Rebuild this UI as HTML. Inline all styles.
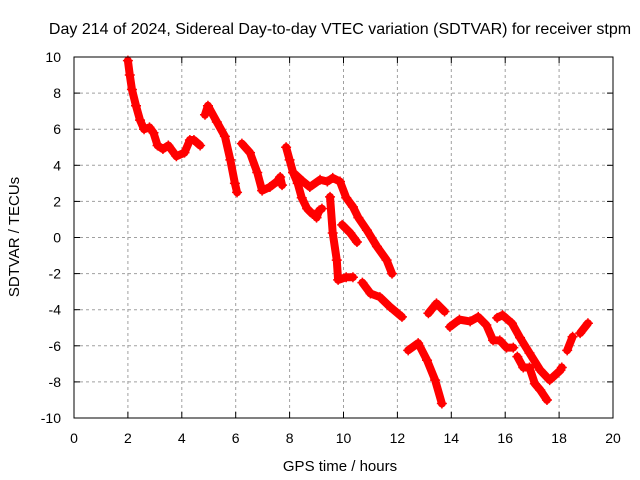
<!DOCTYPE html>
<html><head><meta charset="utf-8"><style>
body{margin:0;background:#fff;}
svg{display:block;font-family:"Liberation Sans",sans-serif;}
</style></head><body>
<svg id="chart" width="640" height="480">
<text x="340" y="34" font-size="16" text-anchor="middle">Day 214 of 2024, Sidereal Day-to-day VTEC variation (SDTVAR) for receiver stpm</text>
<text x="340" y="471" font-size="15" text-anchor="middle">GPS time / hours</text>
<text transform="translate(19,237) rotate(-90)" font-size="15" text-anchor="middle">SDTVAR / TECUs</text>
<g id="grid"></g><g id="ticks"></g><g id="series"></g>
<rect x="74" y="57" width="539" height="361" fill="none" stroke="#000" stroke-width="1"/>
</svg>
<script>
const xTicks=[0,2,4,6,8,10,12,14,16,18,20];
const yTicks=[-10,-8,-6,-4,-2,0,2,4,6,8,10];
const seg1=[[2.0,9.8],[2.07,9.0],[2.15,8.2],[2.3,7.3],[2.45,6.5],[2.6,6.0],[2.8,6.1],[2.95,5.8],[3.1,5.1],[3.3,4.9],[3.5,5.1],[3.8,4.5],[4.1,4.7],[4.3,5.4],[4.45,5.4],[4.68,5.1]];
const seg2=[[4.86,6.8],[4.97,7.3],[5.3,6.4],[5.6,5.6],[5.8,4.3],[5.97,3.0],[6.05,2.5]];
const seg3=[[6.23,5.2],[6.53,4.7],[6.8,3.6],[6.98,2.6],[7.27,2.8],[7.53,3.1],[7.65,3.35],[7.72,2.9]];
const seg4=[[7.87,5.0],[8.0,4.3],[8.13,3.6],[8.5,3.1],[8.75,2.8],[9.13,3.2],[9.4,3.1],[9.6,3.3],[9.87,3.1],[10.1,2.2],[10.35,1.7],[10.55,1.1],[10.87,0.4],[11.24,-0.5],[11.6,-1.25],[11.8,-2.0]];
const seg5=[[8.13,3.6],[8.3,3.0],[8.45,2.2],[8.65,1.6],[8.85,1.3]];
const seg6=[[9.0,1.1],[9.1,1.5],[9.2,1.6]];
const seg7=[[9.5,2.25],[9.6,0.25],[9.75,-1.25],[9.8,-2.35],[10.1,-2.2],[10.35,-2.2]];
const seg8=[[9.95,0.7],[10.25,0.25],[10.5,-0.25]];
const seg9=[[10.7,-2.5],[11.0,-3.1],[11.35,-3.3],[11.73,-3.85],[12.17,-4.4]];
const seg10=[[12.4,-6.25],[12.77,-5.85],[13.1,-6.8],[13.4,-7.9],[13.65,-9.2]];
const seg11=[[13.15,-4.2],[13.45,-3.65],[13.75,-4.1]];
const seg12=[[13.95,-4.95],[14.3,-4.55],[14.7,-4.65],[15.0,-4.4],[15.3,-4.85],[15.55,-5.7],[15.8,-5.7],[16.05,-6.1],[16.3,-6.1]];
const seg13=[[16.45,-6.6],[16.67,-7.2],[16.9,-7.2],[17.1,-8.1],[17.3,-8.45],[17.55,-9.0]];
const seg14=[[15.7,-4.45],[15.9,-4.3],[16.25,-4.75],[16.55,-5.55],[16.9,-6.4],[17.3,-7.35],[17.65,-7.9],[18.05,-7.35],[18.1,-7.2]];
const seg15=[[18.3,-6.25],[18.5,-5.5]];
const seg16=[[18.78,-5.3],[19.07,-4.75]];
const segments=[seg1,seg2,seg3,seg4,seg5,seg6,seg7,seg8,seg9,seg10,seg11,seg12,seg13,seg14,seg15,seg16];
const X0=74,X1=613,Y0=418,Y1=57;
function sx(h){return X0+(h-0)/20*(X1-X0);}
function sy(v){return Y0-(v+10)/20*(Y0-Y1);}
const NS="http://www.w3.org/2000/svg";
const grid=document.getElementById('grid'),ticks=document.getElementById('ticks'),series=document.getElementById('series');
function mk(tag,attrs,parent){const e=document.createElementNS(NS,tag);for(const k in attrs)e.setAttribute(k,attrs[k]);parent.appendChild(e);return e;}
xTicks.forEach(t=>{const x=sx(t);
 if(t>0&&t<20){const g=mk('line',{x1:x,x2:x,y1:Y1,y2:Y0,stroke:'#a0a0a0','stroke-dasharray':'3,3'},grid);
 
 }
 mk('line',{x1:x,x2:x,y1:Y0,y2:Y0-6,stroke:'#000'},ticks);mk('line',{x1:x,x2:x,y1:Y1,y2:Y1+6,stroke:'#000'},ticks);
 const l=mk('text',{x:x,y:Y0+25,'font-size':14,'text-anchor':'middle'},ticks);l.textContent=t;
 
 });
yTicks.forEach(t=>{const y=sy(t);
 if(t>-10&&t<10){const g=mk('line',{x1:X0,x2:X1,y1:y,y2:y,stroke:'#a0a0a0','stroke-dasharray':'3,3'},grid);
 
 }
 mk('line',{x1:X0,x2:X0+6,y1:y,y2:y,stroke:'#000'},ticks);mk('line',{x1:X1,x2:X1-6,y1:y,y2:y,stroke:'#000'},ticks);
 const l=mk('text',{x:X0-13,y:y+5,'font-size':14,'text-anchor':'end'},ticks);l.textContent=t;
 
 });
segments.forEach(seg=>{
 const pl=mk('polyline',{points:seg.map(p=>sx(p[0])+','+sy(p[1])).join(' '),fill:'none',stroke:'#f00','stroke-width':8,'stroke-linejoin':'round','stroke-linecap':'round'},series);
 
 
 seg.forEach(p=>{const x=sx(p[0]),y=sy(p[1]);
  const m=mk('path',{d:`M${x-5},${y}H${x+5}M${x},${y-5}V${y+5}`,stroke:'#f00','stroke-width':1.5},series);
  
  });
});
</script>
</body></html>
